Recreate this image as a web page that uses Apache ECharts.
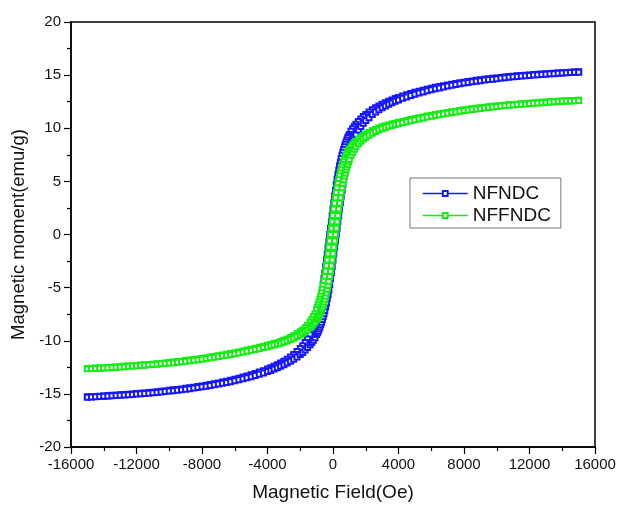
<!DOCTYPE html>
<html lang="en">
<head>
    <meta charset="UTF-8">
    <title>Magnetic hysteresis NFNDC / NFFNDC</title>
    <script type="text/javascript" src="https://cdn.jsdelivr.net/npm/echarts@6/dist/echarts.min.js"></script>
    <style>html,body{margin:0;padding:0;background:#fff;}</style>
</head>
<body>
<div id="main" style="width: 619px;height:507px;"></div>
<script>
    // field sweep, descending branch (Oe)
    var fieldDown = [15000, 14750, 14500, 14250, 14000, 13750, 13500, 13250, 13000, 12750, 12500, 12250, 12000, 11750, 11500, 11250, 11000, 10750, 10500, 10250, 10000,
        9750, 9500, 9250, 9000, 8750, 8500, 8250, 8000, 7750, 7500, 7250, 7000, 6750, 6500, 6250, 6000, 5750, 5500, 5250, 5000, 4750, 4500, 4250, 4000,
        3800, 3600, 3400, 3200, 3000, 2800, 2600, 2400, 2200, 2000, 1850, 1700, 1550, 1400, 1300, 1200, 1100,
        1000, 950, 900, 850, 800, 750, 700, 650,
        600, 550, 500, 450, 400, 350, 300, 250, 200, 150, 100, 50, 0, -50, -100, -150, -200, -250, -300, -350, -400, -450, -500, -550, -600,
        -650, -700, -750, -800, -850, -900, -950, -1000,
        -1100, -1200, -1300, -1400, -1550, -1700, -1850, -2000, -2200, -2400, -2600, -2800, -3000, -3200, -3400, -3600, -3800,
        -4000, -4250, -4500, -4750, -5000, -5250, -5500, -5750, -6000, -6250, -6500, -6750, -7000, -7250, -7500, -7750, -8000, -8250, -8500, -8750, -9000,
        -9250, -9500, -9750, -10000, -10250, -10500, -10750, -11000, -11250, -11500, -11750, -12000, -12250, -12500, -12750, -13000, -13250, -13500, -13750, -14000, -14250, -14500, -14750, -15000];
    // field sweep, ascending branch (Oe)
    var fieldUp = [-15000, -14750, -14500, -14250, -14000, -13750, -13500, -13250, -13000, -12750, -12500, -12250, -12000, -11750, -11500, -11250, -11000, -10750, -10500, -10250, -10000,
        -9750, -9500, -9250, -9000, -8750, -8500, -8250, -8000, -7750, -7500, -7250, -7000, -6750, -6500, -6250, -6000, -5750, -5500, -5250, -5000, -4750, -4500, -4250, -4000,
        -3800, -3600, -3400, -3200, -3000, -2800, -2600, -2400, -2200, -2000, -1850, -1700, -1550, -1400, -1300, -1200, -1100,
        -1000, -950, -900, -850, -800, -750, -700, -650,
        -600, -550, -500, -450, -400, -350, -300, -250, -200, -150, -100, -50, 0, 50, 100, 150, 200, 250, 300, 350, 400, 450, 500, 550, 600,
        650, 700, 750, 800, 850, 900, 950, 1000,
        1100, 1200, 1300, 1400, 1550, 1700, 1850, 2000, 2200, 2400, 2600, 2800, 3000, 3200, 3400, 3600, 3800,
        4000, 4250, 4500, 4750, 5000, 5250, 5500, 5750, 6000, 6250, 6500, 6750, 7000, 7250, 7500, 7750, 8000, 8250, 8500, 8750, 9000,
        9250, 9500, 9750, 10000, 10250, 10500, 10750, 11000, 11250, 11500, 11750, 12000, 12250, 12500, 12750, 13000, 13250, 13500, 13750, 14000, 14250, 14500, 14750, 15000];

    // NFNDC moment (emu/g)
    var nfndcDown = [15.32, 15.30, 15.27, 15.25, 15.23, 15.21, 15.18, 15.16, 15.13, 15.11, 15.08, 15.05, 15.02, 14.99, 14.96, 14.93, 14.90, 14.86, 14.82, 14.78, 14.74,
        14.70, 14.65, 14.61, 14.56, 14.51, 14.45, 14.40, 14.34, 14.29, 14.22, 14.15, 14.08, 14.01, 13.93, 13.85, 13.77, 13.68, 13.58, 13.48, 13.38, 13.28, 13.16, 13.03, 12.9,
        12.8, 12.67, 12.54, 12.41, 12.25, 12.1, 11.93, 11.74, 11.53, 11.3, 11.1, 10.88, 10.64, 10.37, 10.17, 9.95, 9.72,
        9.42, 9.25, 9.1, 8.9, 8.7, 8.5, 8.25, 8.0,
        7.75, 7.45, 7.15, 6.8, 6.45, 6.05, 5.65, 5.2, 4.7, 4.15, 3.6, 3.0, 2.4, 1.8, 1.2, 0.6, 0, -0.6, -1.2, -1.8, -2.4, -3.0, -3.6, -4.15, -4.7,
        -5.2, -5.65, -6.05, -6.45, -6.8, -7.15, -7.45, -7.75,
        -8.25, -8.7, -9.1, -9.42, -9.84, -10.17, -10.46, -10.72, -11.0, -11.3, -11.53, -11.74, -11.93, -12.1, -12.25, -12.41, -12.54,
        -12.67, -12.83, -12.95, -13.08, -13.2, -13.32, -13.42, -13.52, -13.62, -13.72, -13.8, -13.88, -13.97, -14.04, -14.11, -14.18, -14.25, -14.31, -14.37, -14.42, -14.48,
        -14.53, -14.58, -14.62, -14.67, -14.72, -14.76, -14.8, -14.84, -14.88, -14.91, -14.94, -14.97, -15.01, -15.03, -15.06, -15.09, -15.12, -15.14, -15.17, -15.19, -15.22, -15.24, -15.26, -15.28];
    var nfndcUp = [-15.32, -15.30, -15.27, -15.25, -15.23, -15.21, -15.18, -15.16, -15.13, -15.11, -15.08, -15.05, -15.02, -14.99, -14.96, -14.93, -14.90, -14.86, -14.82, -14.78, -14.74,
        -14.70, -14.65, -14.61, -14.56, -14.51, -14.45, -14.40, -14.34, -14.29, -14.22, -14.15, -14.08, -14.01, -13.93, -13.85, -13.77, -13.68, -13.58, -13.48, -13.38, -13.28, -13.16, -13.03, -12.9,
        -12.8, -12.67, -12.54, -12.41, -12.25, -12.1, -11.93, -11.74, -11.53, -11.3, -11.1, -10.88, -10.64, -10.37, -10.17, -9.95, -9.72,
        -9.42, -9.25, -9.1, -8.9, -8.7, -8.5, -8.25, -8.0,
        -7.75, -7.45, -7.15, -6.8, -6.45, -6.05, -5.65, -5.2, -4.7, -4.15, -3.6, -3.0, -2.4, -1.8, -1.2, -0.6, 0, 0.6, 1.2, 1.8, 2.4, 3.0, 3.6, 4.15, 4.7,
        5.2, 5.65, 6.05, 6.45, 6.8, 7.15, 7.45, 7.75,
        8.25, 8.7, 9.1, 9.42, 9.84, 10.17, 10.46, 10.72, 11.0, 11.3, 11.53, 11.74, 11.93, 12.1, 12.25, 12.41, 12.54,
        12.67, 12.83, 12.95, 13.08, 13.2, 13.32, 13.42, 13.52, 13.62, 13.72, 13.8, 13.88, 13.97, 14.04, 14.11, 14.18, 14.25, 14.31, 14.37, 14.42, 14.48,
        14.53, 14.58, 14.62, 14.67, 14.72, 14.76, 14.8, 14.84, 14.88, 14.91, 14.94, 14.97, 15.01, 15.03, 15.06, 15.09, 15.12, 15.14, 15.17, 15.19, 15.22, 15.24, 15.26, 15.28];

    // NFFNDC moment (emu/g)
    var nffndcDown = [12.63, 12.61, 12.6, 12.58, 12.56, 12.54, 12.52, 12.49, 12.47, 12.44, 12.41, 12.38, 12.36, 12.33, 12.3, 12.27, 12.24, 12.21, 12.17, 12.14, 12.1,
        12.06, 12.02, 11.97, 11.93, 11.88, 11.83, 11.78, 11.73, 11.68, 11.61, 11.55, 11.49, 11.42, 11.36, 11.29, 11.22, 11.15, 11.07, 10.98, 10.9, 10.82, 10.73, 10.64, 10.56,
        10.48, 10.39, 10.31, 10.23, 10.13, 10.02, 9.89, 9.76, 9.61, 9.45, 9.3, 9.15, 9.0, 8.78, 8.63, 8.45, 8.25,
        8.03, 7.9, 7.75, 7.6, 7.45, 7.25, 7.05, 6.85,
        6.6, 6.35, 6.1, 5.8, 5.5, 5.15, 4.8, 4.4, 3.95, 3.45, 2.95, 2.4, 1.8, 1.2, 0.6, 0, -0.6, -1.2, -1.8, -2.4, -2.95, -3.45, -3.95, -4.4, -4.8,
        -5.15, -5.5, -5.8, -6.1, -6.35, -6.6, -6.85, -7.05,
        -7.45, -7.75, -8.03, -8.25, -8.55, -8.78, -9.0, -9.15, -9.35, -9.54, -9.69, -9.83, -9.95, -10.07, -10.18, -10.27, -10.35,
        -10.43, -10.54, -10.62, -10.71, -10.8, -10.88, -10.97, -11.05, -11.13, -11.21, -11.27, -11.34, -11.41, -11.48, -11.54, -11.6, -11.66, -11.72, -11.77, -11.82, -11.87,
        -11.92, -11.96, -12.01, -12.05, -12.09, -12.13, -12.16, -12.2, -12.23, -12.26, -12.29, -12.32, -12.35, -12.38, -12.41, -12.43, -12.46, -12.49, -12.51, -12.54, -12.56, -12.57, -12.59, -12.61];
    var nffndcUp = [-12.63, -12.61, -12.6, -12.58, -12.56, -12.54, -12.52, -12.49, -12.47, -12.44, -12.41, -12.38, -12.36, -12.33, -12.3, -12.27, -12.24, -12.21, -12.17, -12.14, -12.1,
        -12.06, -12.02, -11.97, -11.93, -11.88, -11.83, -11.78, -11.73, -11.68, -11.61, -11.55, -11.49, -11.42, -11.36, -11.29, -11.22, -11.15, -11.07, -10.98, -10.9, -10.82, -10.73, -10.64, -10.56,
        -10.48, -10.39, -10.31, -10.23, -10.13, -10.02, -9.89, -9.76, -9.61, -9.45, -9.3, -9.15, -9.0, -8.78, -8.63, -8.45, -8.25,
        -8.03, -7.9, -7.75, -7.6, -7.45, -7.25, -7.05, -6.85,
        -6.6, -6.35, -6.1, -5.8, -5.5, -5.15, -4.8, -4.4, -3.95, -3.45, -2.95, -2.4, -1.8, -1.2, -0.6, 0, 0.6, 1.2, 1.8, 2.4, 2.95, 3.45, 3.95, 4.4, 4.8,
        5.15, 5.5, 5.8, 6.1, 6.35, 6.6, 6.85, 7.05,
        7.45, 7.75, 8.03, 8.25, 8.55, 8.78, 9.0, 9.15, 9.35, 9.54, 9.69, 9.83, 9.95, 10.07, 10.18, 10.27, 10.35,
        10.43, 10.54, 10.62, 10.71, 10.8, 10.88, 10.97, 11.05, 11.13, 11.21, 11.27, 11.34, 11.41, 11.48, 11.54, 11.6, 11.66, 11.72, 11.77, 11.82, 11.87,
        11.92, 11.96, 12.01, 12.05, 12.09, 12.13, 12.16, 12.2, 12.23, 12.26, 12.29, 12.32, 12.35, 12.38, 12.41, 12.43, 12.46, 12.49, 12.51, 12.54, 12.56, 12.57, 12.59, 12.61];

    var seriesNames = ['NFNDC', 'NFFNDC'];
    var seriesColors = ['#1616ff', '#12ee12'];

    // descending branch followed by ascending branch -> closed loop
    function loop(down, up) {
        var pts = [];
        for (var i = 0; i < fieldDown.length; i++) pts.push([fieldDown[i], down[i]]);
        for (var j = 0; j < fieldUp.length; j++) pts.push([fieldUp[j], up[j]]);
        return pts;
    }

    var loops = [loop(nfndcDown, nfndcUp), loop(nffndcDown, nffndcUp)];
    var font = '"Liberation Sans", Arial, sans-serif';

    var myChart = echarts.init(document.getElementById('main'));

    var option = {
        animation: false,
        backgroundColor: '#fff',
        grid: {
            left: 71, right: 24, top: 22, bottom: 60,
            show: true, borderColor: '#000', borderWidth: 1.5,
            outerBoundsMode: 'none'
        },
        legend: {
            orient: 'vertical',
            left: 410, top: 178,
            padding: [6, 10, 3, 12],
            itemGap: 3,
            itemWidth: 45,
            itemHeight: 6,
            borderColor: '#777', borderWidth: 1,
            lineStyle: {width: 1.5},
            textStyle: {fontFamily: font, fontSize: 19, color: '#111'},
            data: seriesNames
        },
        xAxis: {
            type: 'value',
            min: -16000, max: 16000, interval: 4000,
            name: 'Magnetic Field(Oe)',
            nameLocation: 'middle',
            nameGap: 36,
            nameTextStyle: {fontFamily: font, fontSize: 19, color: '#111'},
            axisLine: {onZero: false, lineStyle: {color: '#000', width: 1.5}},
            axisTick: {inside: false, length: 7, lineStyle: {color: '#000', width: 1.2}},
            minorTick: {show: true, splitNumber: 2, length: 4, lineStyle: {color: '#000', width: 1.2}},
            axisLabel: {fontFamily: font, fontSize: 15, color: '#111', margin: 10,
                formatter: function (v) { return String(v); }},
            splitLine: {show: false}
        },
        yAxis: {
            type: 'value',
            min: -20, max: 20, interval: 5,
            name: 'Magnetic moment(emu/g)',
            nameLocation: 'middle',
            nameGap: 40,
            nameTextStyle: {fontFamily: font, fontSize: 18.5, color: '#111'},
            axisLine: {onZero: false, lineStyle: {color: '#000', width: 1.5}},
            axisTick: {inside: false, length: 7, lineStyle: {color: '#000', width: 1.2}},
            minorTick: {show: true, splitNumber: 2, length: 4, lineStyle: {color: '#000', width: 1.2}},
            axisLabel: {fontFamily: font, fontSize: 15, color: '#111', margin: 10,
                formatter: function (v) { return String(v); }},
            splitLine: {show: false}
        },
        series: seriesNames.map(function (name, k) {
            return {
                name: name,
                type: 'line',
                data: loops[k],
                color: seriesColors[k],
                symbol: 'emptyRect',
                symbolSize: 5,
                showAllSymbol: true,
                itemStyle: {color: seriesColors[k], borderWidth: 1.2},
                lineStyle: {width: 1, color: seriesColors[k]},
                emphasis: {disabled: true},
                silent: true
            };
        })
    };

    myChart.setOption(option);
</script>
</body>
</html>
